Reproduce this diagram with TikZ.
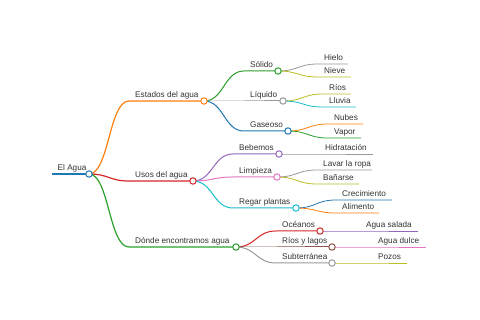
\documentclass[tikz,border=0pt]{standalone}
\usepackage{fontspec}
\setmainfont{Liberation Sans}
\usetikzlibrary{calc}
\definecolor{cblue}{HTML}{1F77B4}
\definecolor{corange}{HTML}{FF7F0E}
\definecolor{cgreen}{HTML}{2CA02C}
\definecolor{cred}{HTML}{D62728}
\definecolor{cpurple}{HTML}{9467BD}
\definecolor{cbrown}{HTML}{8C564B}
\definecolor{cpink}{HTML}{E377C2}
\definecolor{cgray}{HTML}{9A9A9A}
\definecolor{colive}{HTML}{BCBD22}
\definecolor{ccyan}{HTML}{17BECF}
\definecolor{txt}{HTML}{333333}
\tikzset{
  lvA/.style={line width=1.7pt},
  lvB/.style={line width=1.2pt},
  lvC/.style={line width=1.0pt},
  lvD/.style={line width=0.8pt},
  lbl/.style={anchor=base west, inner sep=0pt, text=txt, font=\fontsize{8.2}{9}\selectfont},
  dot/.style={circle, draw, fill=white, minimum size=6.4pt, inner sep=0pt, line width=1pt},
}
\newcommand{\curv}{.. controls +(20,0) and +(-20,0) ..}
\begin{document}
\begin{tikzpicture}[x=1pt,y=-1pt]
\fill[white] (0,0) rectangle (480,320);
\useasboundingbox (0,0) rectangle (480,320);
% coordinates: start (s) and circle/end (e)
\coordinate (rs) at (52,174);  \coordinate (re) at (89,174);
\coordinate (es) at (129,101); \coordinate (ee) at (204,101);
\coordinate (us) at (129,181); \coordinate (ue) at (193,181);
\coordinate (ds) at (129,247); \coordinate (de) at (236,247);
\coordinate (sos) at (244,71);  \coordinate (soe) at (278,71);
\coordinate (lis) at (244,101); \coordinate (lie) at (283,101);
\coordinate (gas) at (244,131); \coordinate (gae) at (288,131);
\coordinate (bes) at (233,154); \coordinate (bee) at (279,154);
\coordinate (lms) at (233,177); \coordinate (lme) at (277,177);
\coordinate (rgs) at (233,208); \coordinate (rge) at (296,208);
\coordinate (ocs) at (276,231); \coordinate (oce) at (320,231);
\coordinate (ris) at (276,247); \coordinate (rie) at (332,247);
\coordinate (sus) at (276,263); \coordinate (sue) at (332,263);
\coordinate (his) at (318,64);  \coordinate (hie) at (348,64);
\coordinate (nis) at (318,77);  \coordinate (nie) at (351,77);
\coordinate (ros) at (323,94);  \coordinate (roe) at (351,94);
\coordinate (lls) at (323,107); \coordinate (lle) at (356,107);
\coordinate (nus) at (328,124); \coordinate (nue) at (363,124);
\coordinate (vas) at (328,138); \coordinate (vae) at (361,138);
\coordinate (hds) at (319,154); \coordinate (hde) at (373,154);
\coordinate (lvs) at (317,170); \coordinate (lve) at (372,170);
\coordinate (bas) at (317,184); \coordinate (bae) at (359,184);
\coordinate (crs) at (336,200); \coordinate (cre) at (392,200);
\coordinate (als) at (336,213); \coordinate (ale) at (379,213);
\coordinate (ass) at (360,231); \coordinate (ase) at (418,231);
\coordinate (ads) at (372,247); \coordinate (ade) at (426,247);
\coordinate (pos) at (372,263); \coordinate (poe) at (407,263);
% connectors
\draw[lvA, cblue] (rs) -- (re);
\draw[lvB, corange] (re) \curv (es) -- (ee);
\draw[lvB, cred] (re) \curv (us) -- (ue);
\draw[lvB, cgreen] (re) \curv (ds) -- (de);
\draw[lvC, cgreen] (ee) \curv (sos) -- (soe);
\draw[lvC, cgray] (ee) \curv (lis) -- (lie);
\draw[lvC, cblue] (ee) \curv (gas) -- (gae);
\draw[lvC, cpurple] (ue) \curv (bes) -- (bee);
\draw[lvC, cpink] (ue) \curv (lms) -- (lme);
\draw[lvC, ccyan] (ue) \curv (rgs) -- (rge);
\draw[lvC, cred] (de) \curv (ocs) -- (oce);
\draw[lvC, cbrown] (de) \curv (ris) -- (rie);
\draw[lvC, cgray] (de) \curv (sus) -- (sue);
\draw[lvD, cgray] (soe) \curv (his) -- (hie);
\draw[lvD, colive] (soe) \curv (nis) -- (nie);
\draw[lvD, colive] (lie) \curv (ros) -- (roe);
\draw[lvD, ccyan] (lie) \curv (lls) -- (lle);
\draw[lvD, corange] (gae) \curv (nus) -- (nue);
\draw[lvD, cgreen] (gae) \curv (vas) -- (vae);
\draw[lvD, cgray] (bee) \curv (hds) -- (hde);
\draw[lvD, cgray] (lme) \curv (lvs) -- (lve);
\draw[lvD, colive] (lme) \curv (bas) -- (bae);
\draw[lvD, cblue] (rge) \curv (crs) -- (cre);
\draw[lvD, corange] (rge) \curv (als) -- (ale);
\draw[lvD, cpurple] (oce) \curv (ass) -- (ase);
\draw[lvD, cpink] (rie) \curv (ads) -- (ade);
\draw[lvD, colive] (sue) \curv (pos) -- (poe);
% circles
\node[dot, draw=cblue] (cr) at (re) {};
\node[dot, draw=corange] (ce) at (ee) {};
\node[dot, draw=cred] (cu) at (ue) {};
\node[dot, draw=cgreen] (cd) at (de) {};
\node[dot, draw=cgreen] (cso) at (soe) {};
\node[dot, draw=cgray] (cli) at (lie) {};
\node[dot, draw=cblue] (cga) at (gae) {};
\node[dot, draw=cpurple] (cbe) at (bee) {};
\node[dot, draw=cpink] (clm) at (lme) {};
\node[dot, draw=ccyan] (crg) at (rge) {};
\node[dot, draw=cred] (coc) at (oce) {};
\node[dot, draw=cbrown] (cri) at (rie) {};
\node[dot, draw=cgray] (csu) at (sue) {};
% labels
\node[lbl] (tr) at ([xshift=5.5pt,yshift=3.4pt]rs) {El Agua};
\node[lbl] (te) at ([xshift=6pt,yshift=3.4pt]es) {Estados del agua};
\node[lbl] (tu) at ([xshift=6pt,yshift=3.4pt]us) {Usos del agua};
\node[lbl] (td) at ([xshift=6pt,yshift=3.4pt]ds) {Dónde encontramos agua};
\node[lbl] (tso) at ([xshift=6pt,yshift=3.4pt]sos) {Sólido};
\node[lbl] (tli) at ([xshift=6pt,yshift=3.4pt]lis) {Líquido};
\node[lbl] (tga) at ([xshift=6pt,yshift=3.4pt]gas) {Gaseoso};
\node[lbl] (tbe) at ([xshift=6pt,yshift=3.4pt]bes) {Bebemos};
\node[lbl] (tlm) at ([xshift=6pt,yshift=3.4pt]lms) {Limpieza};
\node[lbl] (trg) at ([xshift=6pt,yshift=3.4pt]rgs) {Regar plantas};
\node[lbl] (toc) at ([xshift=6pt,yshift=3.4pt]ocs) {Océanos};
\node[lbl] (tri) at ([xshift=6pt,yshift=3.4pt]ris) {Ríos y lagos};
\node[lbl] (tsu) at ([xshift=6pt,yshift=3.4pt]sus) {Subterránea};
\node[lbl] (thi) at ([xshift=6pt,yshift=3.4pt]his) {Hielo};
\node[lbl] (tni) at ([xshift=6pt,yshift=3.4pt]nis) {Nieve};
\node[lbl] (tro) at ([xshift=6pt,yshift=3.4pt]ros) {Ríos};
\node[lbl] (tll) at ([xshift=6pt,yshift=3.4pt]lls) {Lluvia};
\node[lbl] (tnu) at ([xshift=6pt,yshift=3.4pt]nus) {Nubes};
\node[lbl] (tva) at ([xshift=6pt,yshift=3.4pt]vas) {Vapor};
\node[lbl] (thd) at ([xshift=6pt,yshift=3.4pt]hds) {Hidratación};
\node[lbl] (tlv) at ([xshift=6pt,yshift=3.4pt]lvs) {Lavar la ropa};
\node[lbl] (tba) at ([xshift=6pt,yshift=3.4pt]bas) {Bañarse};
\node[lbl] (tcr) at ([xshift=6pt,yshift=3.4pt]crs) {Crecimiento};
\node[lbl] (tal) at ([xshift=6pt,yshift=3.4pt]als) {Alimento};
\node[lbl] (tas) at ([xshift=6pt,yshift=3.4pt]ass) {Agua salada};
\node[lbl] (tad) at ([xshift=6pt,yshift=3.4pt]ads) {Agua dulce};
\node[lbl] (tpo) at ([xshift=6pt,yshift=3.4pt]pos) {Pozos};
\end{tikzpicture}
\end{document}
